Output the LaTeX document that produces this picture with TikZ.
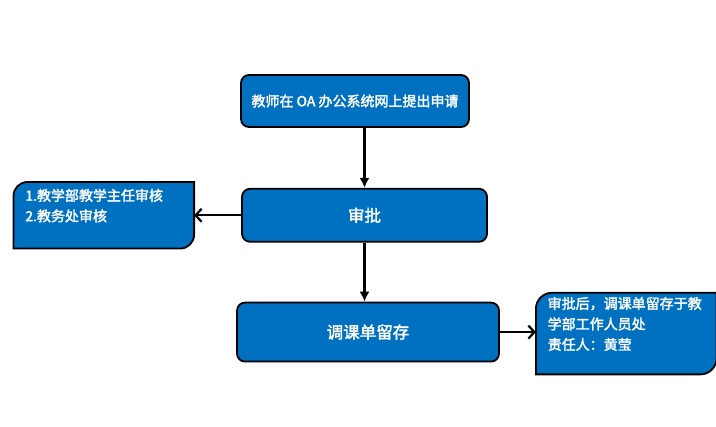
\documentclass[tikz,border=0pt]{standalone}
\usepackage{fontspec}
\setmainfont{Noto Sans CJK SC}[AutoFakeBold=2.2]
\usetikzlibrary{arrows.meta,backgrounds,positioning}
\definecolor{wordblue}{RGB}{0,112,192}

\begin{document}
\begin{tikzpicture}[x=1pt,y=-1pt,every path/.style={line width=1.6pt}]
  \tikzstyle{stepbox} = [draw=black,line width=1.8pt,fill=wordblue,rounded corners=8pt,text=white,font=\bfseries\fontsize{16.5}{19}\selectfont];
  \tikzstyle{notebox} = [text=white,align=left,inner sep=0pt,text width=157pt,minimum width=179pt,font=\bfseries\fontsize{14}{20.5}\selectfont];
  \tikzstyle{notefill} = [draw=black,line width=1.8pt,fill=wordblue];
  \tikzset{flow/.style={draw=black,line width=2.2pt,-{Latex[length=10pt,width=10pt]}},pass/.style={draw=black,line width=2.2pt,-{Straight Barb[length=6pt,width=13pt]}}};
  \useasboundingbox (0,0) rectangle (716,427);
  \node[stepbox,minimum width=228pt,minimum height=52pt,font=\bfseries\fontsize{14}{16}\selectfont] (apply) at (355,101) {教师在 OA 办公系统网上提出申请};
  \node[stepbox,below=60pt of apply,xshift=9.5pt,minimum width=245pt,minimum height=53pt] (approve) {审批};
  \node[stepbox,below=59pt of approve,xshift=3.5pt,minimum width=262pt,minimum height=59pt] (archive) {调课单留存};
  \node[notebox,left=47pt of approve,minimum height=65pt] (reviewers) {1.教学部教学主任审核\\2.教务处审核\\\mbox{}};
  \node[notebox,right=36pt of archive,yshift=-1.5pt,minimum height=80pt] (keeper) {审批后，调课单留存于教\\学部工作人员处\\责任人：黄莹\\\mbox{}};
  \scoped[on background layer]{
    \draw[notefill] ([yshift=-14pt]reviewers.north west) arc[start angle=180,end angle=90,radius=14pt] -- (reviewers.north east) -- ([yshift=14pt]reviewers.south east) arc[start angle=0,end angle=-90,radius=14pt] -- (reviewers.south west) -- cycle;
    \draw[notefill] ([yshift=-16pt]keeper.north west) arc[start angle=180,end angle=90,radius=16pt] -- (keeper.north east) -- ([yshift=16pt]keeper.south east) arc[start angle=0,end angle=-90,radius=16pt] -- (keeper.south west) -- cycle;
  };
  \draw[flow] (approve.north |- apply.south) -- (approve.north);
  \draw[flow] (approve.south) -- (approve.south |- archive.north);
  \draw[pass] (approve.west) -- (reviewers.east);
  \draw[pass] (archive.east) -- (archive.east -| keeper.west);
\end{tikzpicture}
\end{document}
